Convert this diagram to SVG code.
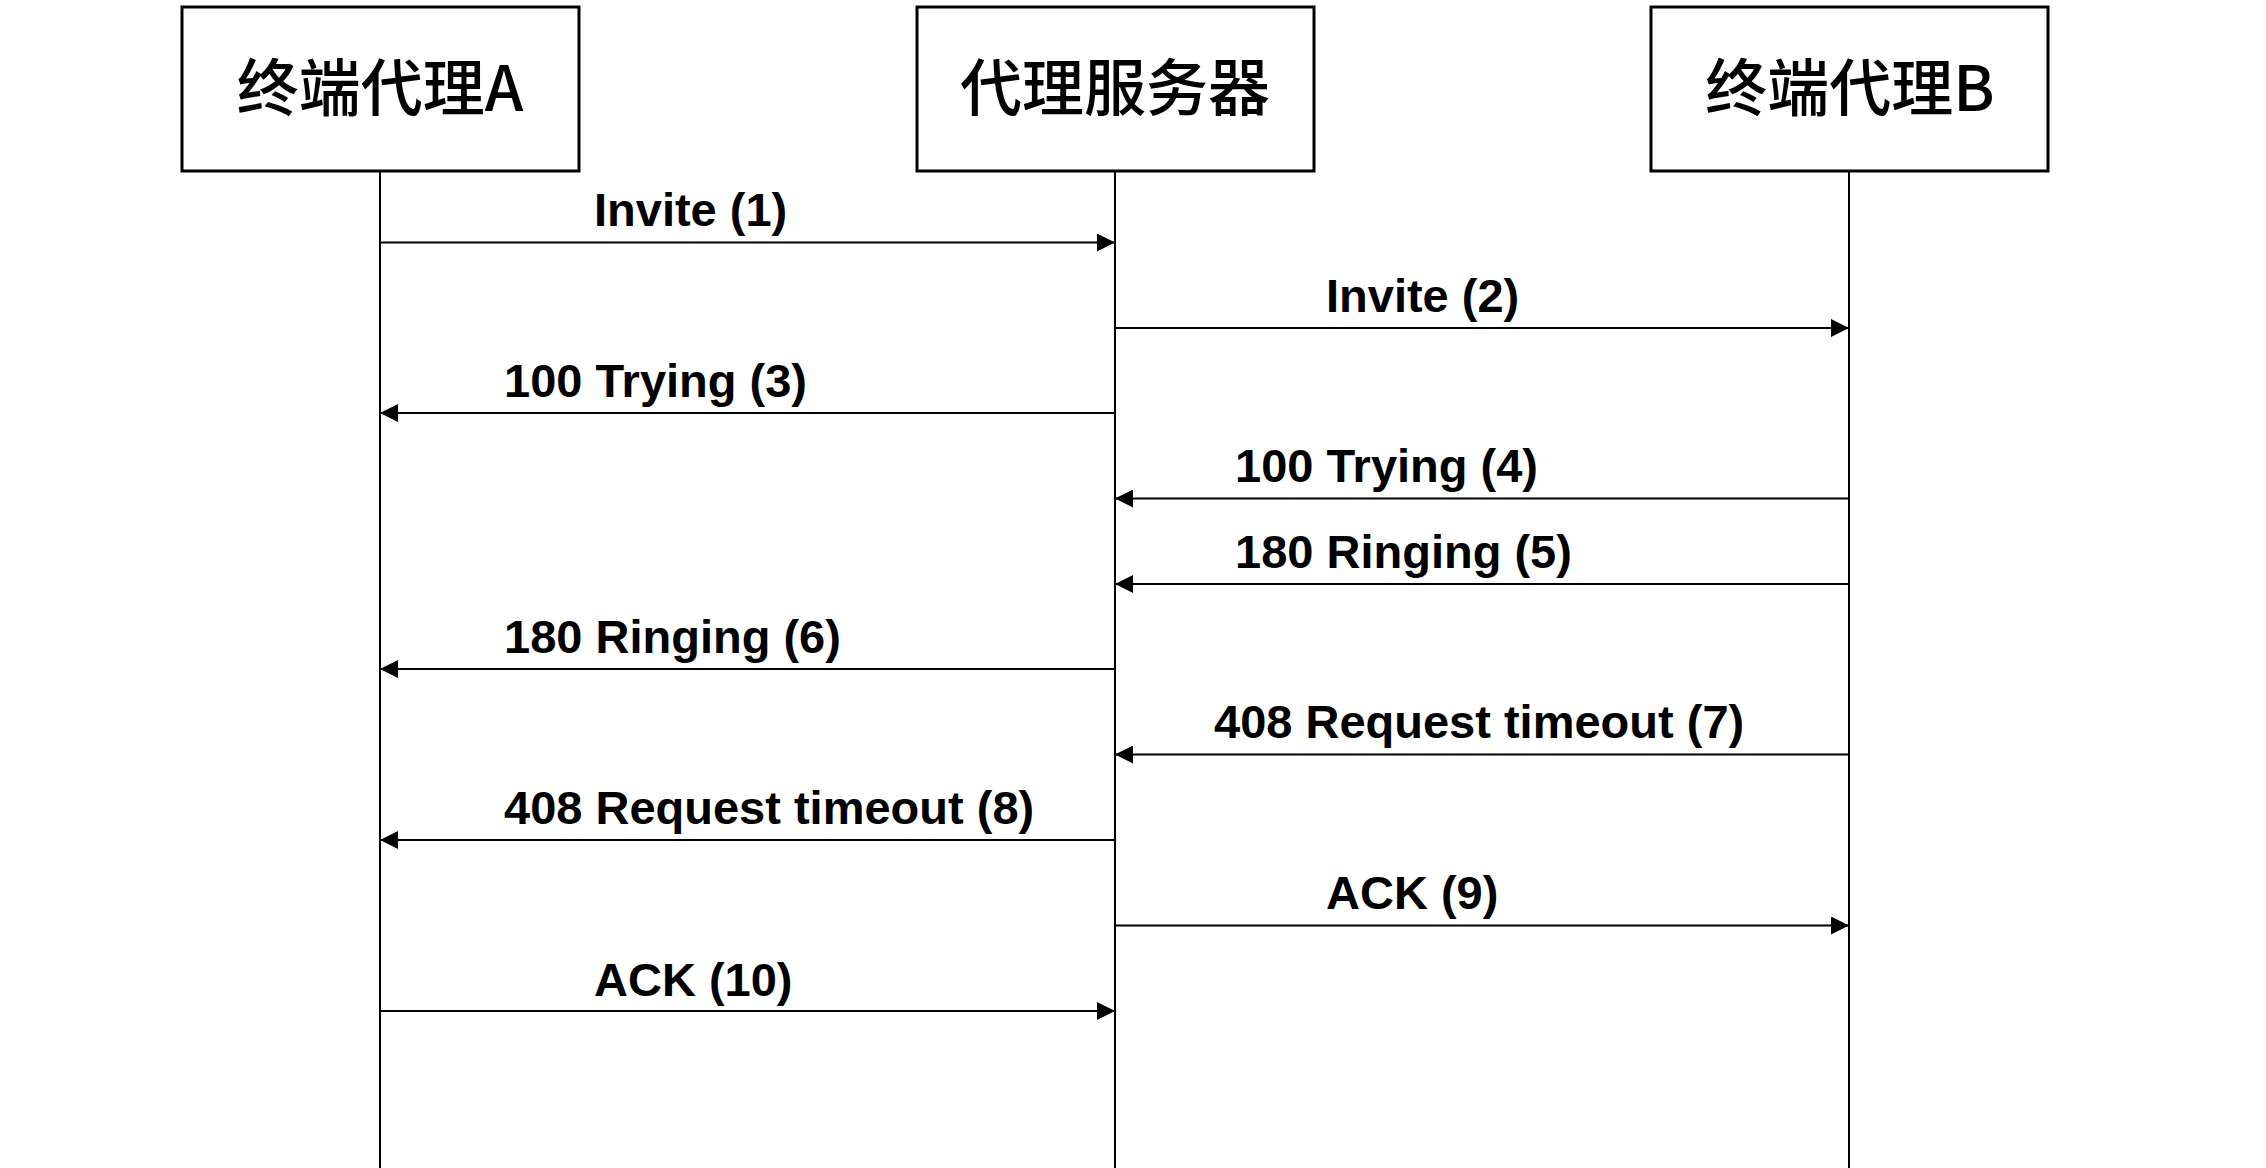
<svg xmlns="http://www.w3.org/2000/svg" width="2266" height="1168" viewBox="0 0 2266 1168">
<style>
.box{fill:#fff;stroke:#000;stroke-width:3}
.life{stroke:#000;stroke-width:2}
.msg{stroke:#000;stroke-width:2;fill:none;marker-end:url(#ah)}
.nt{font-family:"Noto Sans CJK SC","Noto Sans",sans-serif;font-size:62px;font-weight:500;text-anchor:middle;fill:#000}
.lbl{font-family:"Liberation Sans",Arial,sans-serif;font-size:47px;font-weight:bold;fill:#000}
</style>
<defs>
<marker id="ah" markerUnits="userSpaceOnUse" markerWidth="18" markerHeight="18" refX="18" refY="9" orient="auto">
<path d="M0,0 L18,9 L0,18 Z" fill="#000"/>
</marker>
</defs>
<rect width="2266" height="1168" fill="#fff"/>
<g id="node-a">
<rect class="box" x="182" y="7" width="397" height="164"/>
<text class="nt" x="380" y="111">终端代理A</text>
</g>
<g id="node-proxy">
<rect class="box" x="917" y="7" width="397" height="164"/>
<text class="nt" x="1115" y="111">代理服务器</text>
</g>
<g id="node-b">
<rect class="box" x="1651" y="7" width="397" height="164"/>
<text class="nt" x="1850" y="111">终端代理B</text>
</g>
<g id="lifelines">
<line class="life" x1="380" y1="171" x2="380" y2="1168"/>
<line class="life" x1="1115" y1="171" x2="1115" y2="1168"/>
<line class="life" x1="1849" y1="171" x2="1849" y2="1168"/>
</g>
<g id="connectors">
<line class="msg" x1="380" y1="242.5" x2="1115" y2="242.5"/>
<line class="msg" x1="1115" y1="328" x2="1849" y2="328"/>
<line class="msg" x1="1115" y1="413" x2="380" y2="413"/>
<line class="msg" x1="1849" y1="498.5" x2="1115" y2="498.5"/>
<line class="msg" x1="1849" y1="584" x2="1115" y2="584"/>
<line class="msg" x1="1115" y1="669" x2="380" y2="669"/>
<line class="msg" x1="1849" y1="754.5" x2="1115" y2="754.5"/>
<line class="msg" x1="1115" y1="840" x2="380" y2="840"/>
<line class="msg" x1="1115" y1="925.5" x2="1849" y2="925.5"/>
<line class="msg" x1="380" y1="1011" x2="1115" y2="1011"/>
</g>
<g id="labels">
<text class="lbl" x="594" y="226">Invite (1)</text>
<text class="lbl" x="1326" y="312">Invite (2)</text>
<text class="lbl" x="504" y="397">100 Trying (3)</text>
<text class="lbl" x="1235" y="482">100 Trying (4)</text>
<text class="lbl" x="1235" y="568">180 Ringing (5)</text>
<text class="lbl" x="504" y="653">180 Ringing (6)</text>
<text class="lbl" x="1214" y="738">408 Request timeout (7)</text>
<text class="lbl" x="504" y="824">408 Request timeout (8)</text>
<text class="lbl" x="1326" y="909">ACK (9)</text>
<text class="lbl" x="594" y="996">ACK (10)</text>
</g>
</svg>
